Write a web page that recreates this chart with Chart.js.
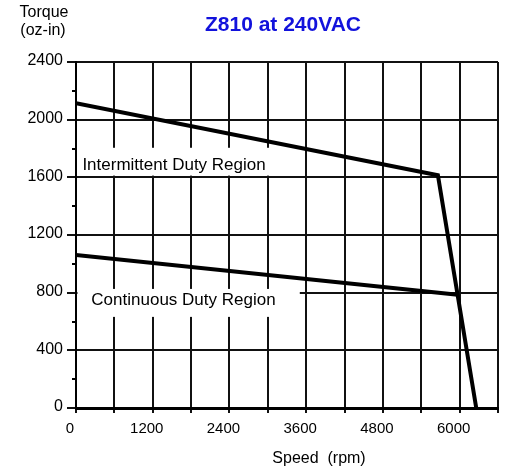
<!DOCTYPE html>
<html>
<head>
<meta charset="utf-8">
<script src="https://cdn.jsdelivr.net/npm/chart.js@4.4.1/dist/chart.umd.min.js"></script>
<style>
  html, body { margin: 0; padding: 0; background: #fff; }
  #wrap { width: 522px; height: 469px; position: relative; }
</style>
</head>
<body>
<div id="wrap"><canvas id="torqueChart" width="522" height="469"></canvas></div>
<script>
// Speed / torque curve points
const intermittentSpeed = [0, 5660, 6260];
const intermittentTorque = [2115, 1615, 0];
const continuousSpeed = [0, 5970];
const continuousTorque = [1062, 785];

// axis setup
const speedMax = 6600;
const speedStep = 600;
const speedLabelStep = 1200;
const torqueMax = 2400;
const torqueStep = 400;
const torqueMinorTicks = [200, 600, 1000, 1400, 1800, 2200];

// region captions: [text, left speed, box right speed, box bottom torque, box top torque, text torque]
const regionLabels = [
    ['Intermittent Duty Region', 100, 3230, 1612, 1805, 1685],
    ['Continuous Duty Region', 240, 3500, 632, 826, 748]
];

const FONT = '"Liberation Sans", Arial, sans-serif';

const toPoints = (xs, ys) => xs.map((x, i) => ({ x: x, y: ys[i] }));

// white boxes behind the captions, drawn between the grid and the curves
const captionPlugin = {
    id: 'captions',
    beforeDatasetsDraw(chart) {
        const { ctx, scales: { x, y } } = chart;
        ctx.save();
        regionLabels.forEach(([text, sx, bx, b0, b1, ty]) => {
            const left = x.getPixelForValue(0) + 1.5;
            const right = x.getPixelForValue(bx);
            const top = y.getPixelForValue(b1);
            const bottom = y.getPixelForValue(b0);
            ctx.fillStyle = '#fff';
            ctx.fillRect(left, top, right - left, bottom - top);
            ctx.fillStyle = '#000';
            ctx.font = '17px ' + FONT;
            ctx.textAlign = 'left';
            ctx.textBaseline = 'middle';
            ctx.fillText(text, x.getPixelForValue(sx), y.getPixelForValue(ty));
        });
        ctx.restore();
    },
    afterDraw(chart) {
        const { ctx, scales: { y } } = chart;
        ctx.save();
        // minor ticks on the torque axis
        ctx.strokeStyle = '#000';
        ctx.lineWidth = 2;
        torqueMinorTicks.forEach(v => {
            const py = Math.round(y.getPixelForValue(v));
            ctx.beginPath();
            ctx.moveTo(y.right - 4, py);
            ctx.lineTo(y.right, py);
            ctx.stroke();
        });
        // titles
        ctx.fillStyle = '#1212dc';
        ctx.font = 'bold 21px ' + FONT;
        ctx.textAlign = 'center';
        ctx.textBaseline = 'middle';
        ctx.fillText('Z810 at 240VAC', 283, 25);
        ctx.fillStyle = '#000';
        ctx.font = '16px ' + FONT;
        ctx.fillText('Torque', 44, 13);
        ctx.fillText('(oz-in)', 43, 31);
        ctx.fillText('Speed  (rpm)', 319, 459);
        ctx.restore();
    }
};

new Chart(document.getElementById('torqueChart'), {
    type: 'scatter',
    data: {
        datasets: [
            {
                label: 'Intermittent',
                data: toPoints(intermittentSpeed, intermittentTorque),
                showLine: true,
                borderColor: '#000',
                borderWidth: 4,
                borderJoinStyle: 'miter',
                pointRadius: 0
            },
            {
                label: 'Continuous',
                data: toPoints(continuousSpeed, continuousTorque),
                showLine: true,
                borderColor: '#000',
                borderWidth: 4,
                pointRadius: 0
            }
        ]
    },
    options: {
        responsive: false,
        animation: false,
        events: [],
        layout: { padding: { top: 62, right: 24, left: 0, bottom: 0 } },
        plugins: {
            legend: { display: false },
            tooltip: { enabled: false },
            title: { display: false }
        },
        scales: {
            x: {
                type: 'linear',
                min: 0,
                max: speedMax,
                afterFit: s => { s.height = 61; },
                border: { color: '#000', width: 3 },
                grid: { color: '#111', lineWidth: 2, tickLength: 5 },
                ticks: {
                    stepSize: speedStep,
                    autoSkip: false,
                    maxRotation: 0,
                    padding: 7,
                    labelOffset: -6,
                    color: '#000',
                    font: { family: FONT, size: 15 },
                    callback: v => (v % speedLabelStep === 0 && v < speedMax) ? String(v) : ''
                }
            },
            y: {
                min: 0,
                max: torqueMax,
                afterFit: s => { s.width = 76; },
                border: { color: '#000', width: 2 },
                grid: { color: '#111', lineWidth: 2, tickLength: 9 },
                ticks: {
                    stepSize: torqueStep,
                    padding: 4,
                    labelOffset: -1,
                    color: '#000',
                    font: { family: FONT, size: 16 },
                    callback: v => String(v)
                }
            }
        }
    },
    plugins: [captionPlugin]
});
</script>
</body>
</html>
